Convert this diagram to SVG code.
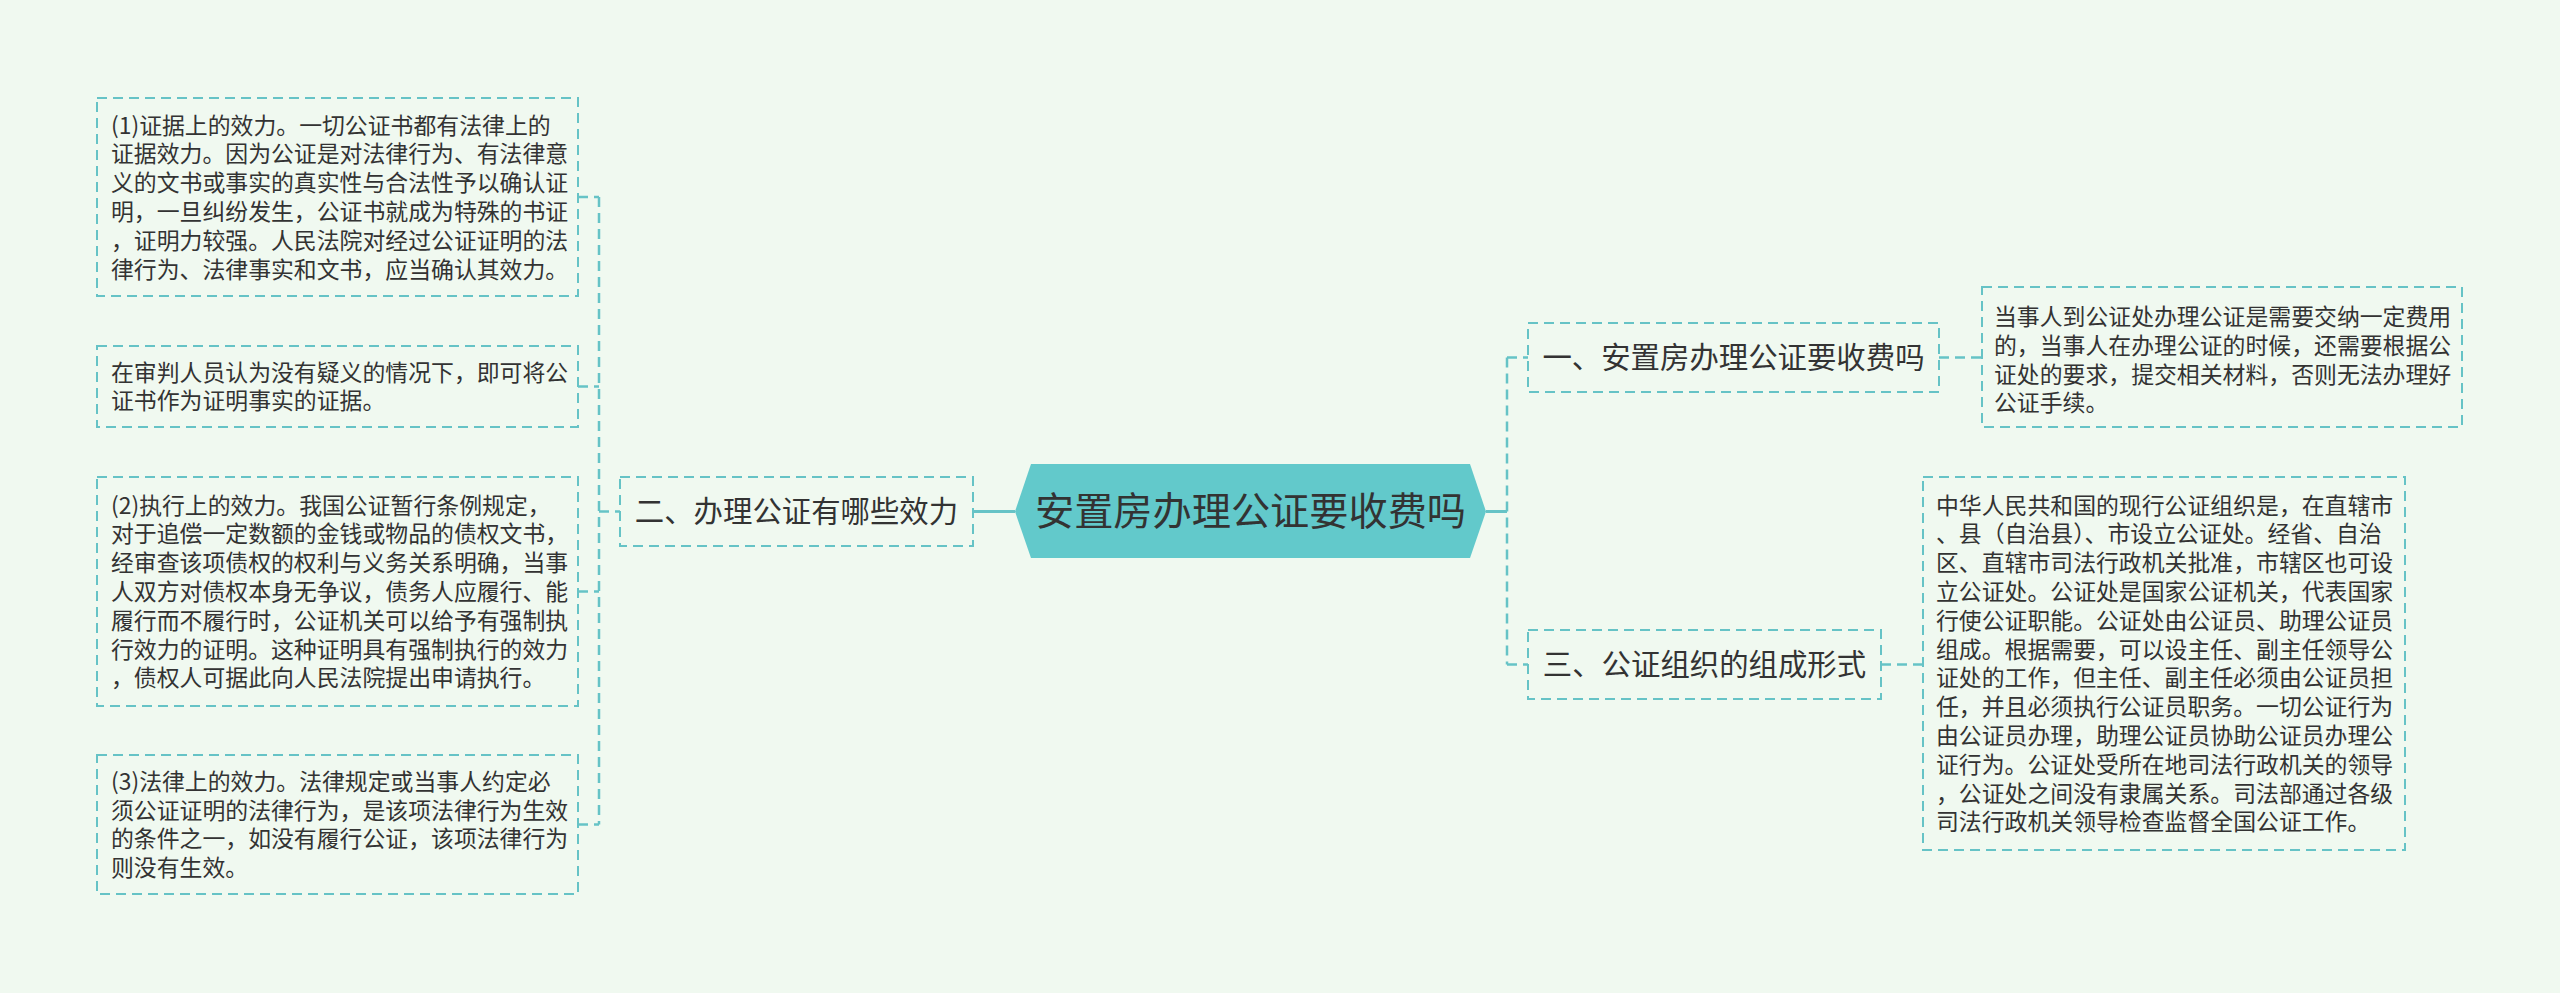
<svg xmlns="http://www.w3.org/2000/svg" width="2560" height="993" viewBox="0 0 2560 993">
<defs>
<style>
.bg{fill:#f0f9f0}
.box{fill:none;stroke:#66c3c6;stroke-width:2;stroke-dasharray:10 6}
.conn{fill:none;stroke:#66c3c6;stroke-width:2.5;stroke-dasharray:10 6}
.solid{fill:none;stroke:#66c3c6;stroke-width:3}
.t{font-family:"Noto Sans CJK SC","Noto Sans",sans-serif;fill:#333333}
.leaf{font-size:22.86px}
.br{font-size:29.4px;text-anchor:middle}
.ct{font-size:39.2px;text-anchor:middle}
</style>
</defs>
<rect class="bg" x="0" y="0" width="2560" height="993"/>
<g id="connectors">
<path class="solid" d="M973 511.5H1015"/>
<path class="conn" d="M599 197V824.5M578 197H599M578 386.5H599M578 591.5H599M578 824.5H599M599 511.5H620"/>
<path class="solid" d="M1486 511.5H1507"/>
<path class="conn" d="M1507 357.5V664.5M1507 357.5H1528M1507 664.5H1528"/>
<path class="conn" d="M1939 357.5H1982"/>
<path class="conn" d="M1881 664.5H1923"/>
</g>
<g id="center">
<polygon points="1015,511.5 1031,464 1470,464 1486,511.5 1470,558 1031,558" fill="#62c9cb"/>
<text class="t ct" x="1250.5" y="525">安置房办理公证要收费吗</text>
</g>
<g id="branch2">
<rect class="box" x="620" y="477" width="353" height="69"/>
<text class="t br" x="796.5" y="522">二、办理公证有哪些效力</text>
</g>
<g id="branch1">
<rect class="box" x="1528" y="323" width="411" height="69"/>
<text class="t br" x="1733.5" y="368">一、安置房办理公证要收费吗</text>
</g>
<g id="branch3">
<rect class="box" x="1528" y="630" width="353" height="69"/>
<text class="t br" x="1704.5" y="675">三、公证组织的组成形式</text>
</g>
<g id="leaf-left1">
<rect class="box" x="97" y="98" width="481" height="198"/>
<text class="t leaf" x="111" y="133.5"><tspan x="111">(1)证据上的效力。一切公证书都有法律上的</tspan><tspan x="111" dy="28.8">证据效力。因为公证是对法律行为、有法律意</tspan><tspan x="111" dy="28.8">义的文书或事实的真实性与合法性予以确认证</tspan><tspan x="111" dy="28.8">明，一旦纠纷发生，公证书就成为特殊的书证</tspan><tspan x="111" dy="28.8">，证明力较强。人民法院对经过公证证明的法</tspan><tspan x="111" dy="28.8">律行为、法律事实和文书，应当确认其效力。</tspan></text>
</g>
<g id="leaf-left2">
<rect class="box" x="97" y="346" width="481" height="81"/>
<text class="t leaf" x="111" y="380.6"><tspan x="111">在审判人员认为没有疑义的情况下，即可将公</tspan><tspan x="111" dy="28.8">证书作为证明事实的证据。</tspan></text>
</g>
<g id="leaf-left3">
<rect class="box" x="97" y="477" width="481" height="229"/>
<text class="t leaf" x="111" y="513.6"><tspan x="111">(2)执行上的效力。我国公证暂行条例规定，</tspan><tspan x="111" dy="28.8">对于追偿一定数额的金钱或物品的债权文书，</tspan><tspan x="111" dy="28.8">经审查该项债权的权利与义务关系明确，当事</tspan><tspan x="111" dy="28.8">人双方对债权本身无争议，债务人应履行、能</tspan><tspan x="111" dy="28.8">履行而不履行时，公证机关可以给予有强制执</tspan><tspan x="111" dy="28.8">行效力的证明。这种证明具有强制执行的效力</tspan><tspan x="111" dy="28.8">，债权人可据此向人民法院提出申请执行。</tspan></text>
</g>
<g id="leaf-left4">
<rect class="box" x="97" y="755" width="481" height="139"/>
<text class="t leaf" x="111" y="789.8"><tspan x="111">(3)法律上的效力。法律规定或当事人约定必</tspan><tspan x="111" dy="28.8">须公证证明的法律行为，是该项法律行为生效</tspan><tspan x="111" dy="28.8">的条件之一，如没有履行公证，该项法律行为</tspan><tspan x="111" dy="28.8">则没有生效。</tspan></text>
</g>
<g id="leaf-right1">
<rect class="box" x="1982" y="287" width="480" height="140"/>
<text class="t leaf" x="1994" y="325"><tspan x="1994">当事人到公证处办理公证是需要交纳一定费用</tspan><tspan x="1994" dy="28.8">的，当事人在办理公证的时候，还需要根据公</tspan><tspan x="1994" dy="28.8">证处的要求，提交相关材料，否则无法办理好</tspan><tspan x="1994" dy="28.8">公证手续。</tspan></text>
</g>
<g id="leaf-right3">
<rect class="box" x="1923" y="477" width="482" height="373"/>
<text class="t leaf" x="1936" y="513.6"><tspan x="1936">中华人民共和国的现行公证组织是，在直辖市</tspan><tspan x="1936" dy="28.8">、县（自治县）、市设立公证处。经省、自治</tspan><tspan x="1936" dy="28.8">区、直辖市司法行政机关批准，市辖区也可设</tspan><tspan x="1936" dy="28.8">立公证处。公证处是国家公证机关，代表国家</tspan><tspan x="1936" dy="28.8">行使公证职能。公证处由公证员、助理公证员</tspan><tspan x="1936" dy="28.8">组成。根据需要，可以设主任、副主任领导公</tspan><tspan x="1936" dy="28.8">证处的工作，但主任、副主任必须由公证员担</tspan><tspan x="1936" dy="28.8">任，并且必须执行公证员职务。一切公证行为</tspan><tspan x="1936" dy="28.8">由公证员办理，助理公证员协助公证员办理公</tspan><tspan x="1936" dy="28.8">证行为。公证处受所在地司法行政机关的领导</tspan><tspan x="1936" dy="28.8">，公证处之间没有隶属关系。司法部通过各级</tspan><tspan x="1936" dy="28.8">司法行政机关领导检查监督全国公证工作。</tspan></text>
</g>
</svg>
